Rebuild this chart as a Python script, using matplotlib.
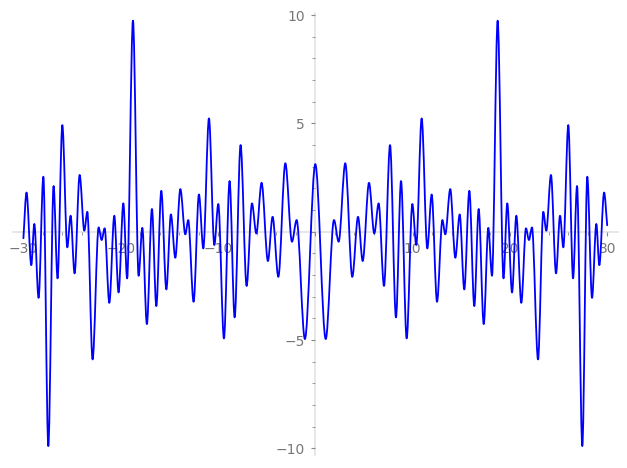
import matplotlib
matplotlib.use('Agg')
import matplotlib.pyplot as plt
from matplotlib.path import Path
from matplotlib.patches import PathPatch
from matplotlib.ticker import FixedLocator, MultipleLocator, FuncFormatter

# Local extrema of the curve (plus the two end points)
x_vals = [-30.00, -29.68, -29.19, -28.88, -28.44, -27.95, -27.44, -26.90, -26.49, -26.00,
          -25.49, -25.15, -24.74, -24.22, -23.74, -23.43, -22.89, -22.27, -21.96, -21.65,
          -21.17, -20.66, -20.22, -19.73, -19.34, -18.74, -18.16, -17.78, -17.31, -16.79,
          -16.34, -15.83, -15.31, -14.84, -14.39, -13.87, -13.36, -13.06, -12.51, -11.96,
          -11.51, -10.93, -10.38, -9.97, -9.39, -8.81, -8.29, -7.68, -7.06, -6.51,
          -6.06, -5.52, -4.87, -4.39, -3.80, -3.08, -2.40, -1.92, -1.07, 0.00,
          1.07, 1.92, 2.40, 3.08, 3.80, 4.39, 4.87, 5.52, 6.06, 6.51,
          7.06, 7.68, 8.29, 8.81, 9.39, 9.97, 10.38, 10.93, 11.51, 11.96,
          12.51, 13.06, 13.36, 13.87, 14.39, 14.84, 15.31, 15.83, 16.34, 16.79,
          17.31, 17.78, 18.16, 18.74, 19.34, 19.73, 20.22, 20.66, 21.17, 21.65,
          21.96, 22.27, 22.89, 23.43, 23.74, 24.22, 24.74, 25.15, 25.49, 26.00,
          26.49, 26.90, 27.44, 27.95, 28.44, 28.88, 29.19, 29.68, 30.00]
y_vals = [-0.30, 1.81, -1.54, 0.36, -3.05, 2.54, -9.89, 2.11, -2.15, 4.92,
          -0.72, 0.74, -1.92, 2.62, 0.05, 0.92, -5.89, 0.20, -0.38, 0.16,
          -3.28, 0.74, -2.80, 1.31, -2.15, 9.74, -2.03, 0.18, -4.26, 1.05,
          -3.43, 1.89, -2.66, 0.80, -1.20, 1.97, -0.12, 0.54, -3.23, 1.72,
          -0.77, 5.23, -0.61, 1.28, -4.92, 2.34, -3.95, 4.00, -2.50, 1.31,
          -0.08, 2.26, -1.35, 0.69, -2.08, 3.16, -0.46, 0.54, -4.95, 3.12,
          -4.95, 0.54, -0.46, 3.16, -2.08, 0.69, -1.35, 2.26, -0.08, 1.31,
          -2.50, 4.00, -3.95, 2.34, -4.92, 1.28, -0.61, 5.23, -0.77, 1.72,
          -3.23, 0.54, -0.12, 1.97, -1.20, 0.80, -2.66, 1.89, -3.43, 1.05,
          -4.26, 0.18, -2.03, 9.74, -2.15, 1.31, -2.80, 0.74, -3.28, 0.16,
          -0.38, 0.20, -5.89, 0.92, 0.05, 2.62, -1.92, 0.74, -0.72, 4.92,
          -2.15, 2.11, -9.89, 2.54, -3.05, 0.36, -1.54, 1.81, 0.30]
assert len(x_vals) == len(y_vals)

x_major = [-30, -20, -10, 0, 10, 20, 30]
y_major = [-10, -5, 0, 5, 10]

fig = plt.figure(figsize=(6.27, 4.68), dpi=100, facecolor='white')
ax = fig.add_axes([12.7 / 627, 13.0 / 468, 605.6 / 627, 441.7 / 468])

# smooth curve through the extrema (horizontal tangents at each extremum)
verts = [(x_vals[0], y_vals[0])]
codes = [Path.MOVETO]
n = len(x_vals)
for i in range(n - 1):
    x0, y0, x1, y1 = x_vals[i], y_vals[i], x_vals[i + 1], y_vals[i + 1]
    dx = (x1 - x0) / 3.0
    if i == 0:
        c1 = (x0 + dx, y0 + (y1 - y0) / 3.0)
    else:
        c1 = (x0 + dx, y0)
    if i == n - 2:
        c2 = (x1 - dx, y1 - (y1 - y0) / 3.0)
    else:
        c2 = (x1 - dx, y1)
    verts += [c1, c2, (x1, y1)]
    codes += [Path.CURVE4, Path.CURVE4, Path.CURVE4]

patch = PathPatch(Path(verts, codes), fill=False, edgecolor='#0000ff',
                  linewidth=1.3, zorder=3, capstyle='round', joinstyle='round')
ax.add_patch(patch)

ax.set_xlim(-31.1, 31.14)
ax.set_ylim(-10.3, 10.08)

for s in ['top', 'right']:
    ax.spines[s].set_visible(False)
for s in ['left', 'bottom']:
    ax.spines[s].set_position(('data', 0))
    ax.spines[s].set_color('#e3e3e3')
    ax.spines[s].set_linewidth(1.2)
    ax.spines[s].set_zorder(1)

def fmt(v, pos):
    if abs(v) < 1e-9:
        return ''
    s = '%d' % round(v)
    return s.replace('-', '\u2212')

ax.xaxis.set_major_locator(FixedLocator(x_major))
ax.xaxis.set_minor_locator(MultipleLocator(2))
ax.yaxis.set_major_locator(FixedLocator(y_major))
ax.yaxis.set_minor_locator(MultipleLocator(1))
ax.xaxis.set_major_formatter(FuncFormatter(fmt))
ax.yaxis.set_major_formatter(FuncFormatter(fmt))

ax.tick_params(which='major', direction='out', length=3, width=0.8,
               color='#888888', labelcolor='#777777', labelsize=10, pad=4.5)
ax.tick_params(which='minor', direction='out', length=2, width=0.7,
               color='#999999')
ax.set_facecolor('white')

fig.savefig('out.png', dpi=100, facecolor='white')
